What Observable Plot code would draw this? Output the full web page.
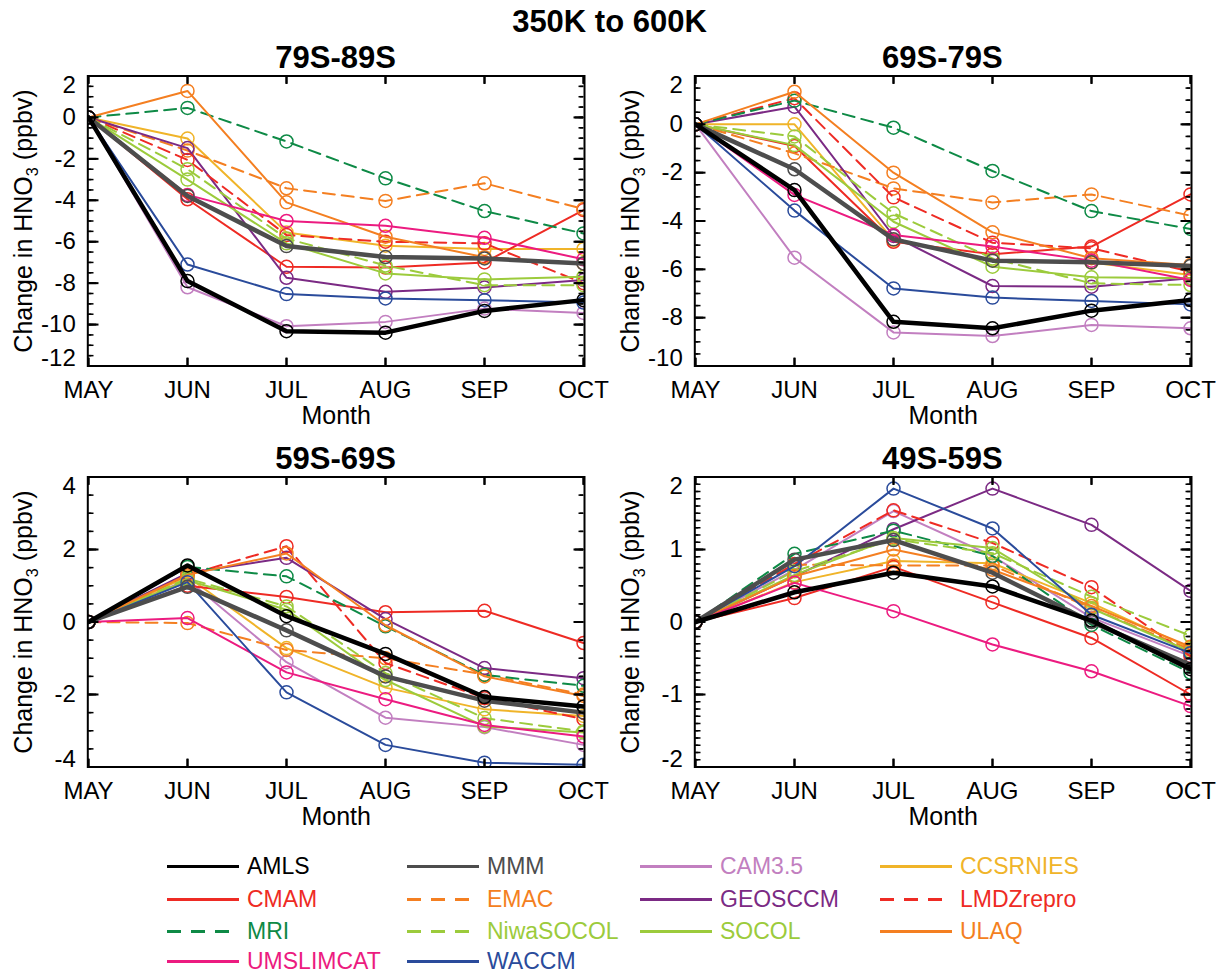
<!DOCTYPE html>
<html><head><meta charset="utf-8">
<script src="https://cdn.jsdelivr.net/npm/d3@7"></script>
<script src="https://cdn.jsdelivr.net/npm/@observablehq/plot@0.6"></script>
<style>
body{margin:0;background:#fff;font-family:"Liberation Sans",Arial,Helvetica,sans-serif;}
#wrap{position:relative;width:1219px;height:974px;overflow:hidden;background:#fff;}
.abs{position:absolute;white-space:nowrap;}
.ttl{font-weight:bold;transform:translate(-50%,-50%);}
.ylab{font-size:25px;transform:translate(-50%,-50%) rotate(-90deg);}
.leg{position:absolute;display:flex;align-items:center;font-size:23px;white-space:nowrap;transform:translateY(-50%);line-height:1;}
.leg svg{margin-right:8px;}
.plotbox{position:absolute;}
</style></head><body><div id="wrap"></div>
<script>
const months = ["MAY","JUN","JUL","AUG","SEP","OCT"];
const seriesNames = ["AMLS","MMM","CAM3.5","CCSRNIES","CMAM","EMAC","GEOSCCM","LMDZrepro","MRI","NiwaSOCOL","SOCOL","ULAQ","UMSLIMCAT","WACCM"];
const seriesColors = ["#000000","#4d4d4d","#c27fc0","#f0b429","#ee2b24","#f47f21","#7b2a84","#ee2b24","#0e8a46","#9ccb3c","#9ccb3c","#f47f21","#ec1b80","#2a4b9b"];
const seriesDashed = [false,false,false,false,false,true,false,true,true,true,false,false,false,false];
const seriesThick = [true,true,false,false,false,false,false,false,false,false,false,false,false,false];
const panelTitles = ["79S-89S","69S-79S","59S-69S","49S-59S"];
const legendOrder = ["AMLS","MMM","CAM3.5","CCSRNIES","CMAM","EMAC","GEOSCCM","LMDZrepro","MRI","NiwaSOCOL","SOCOL","ULAQ","UMSLIMCAT","WACCM"];

// values: rows in seriesNames order, columns in months order
const p79S89S = [
  [0,-7.9,-10.32,-10.39,-9.34,-8.82],
  [0,-3.79,-6.21,-6.74,-6.81,-7.05],
  [0,-8.2,-10.08,-9.87,-9.23,-9.44],
  [0,-1.02,-5.55,-6.19,-6.35,-6.35],
  [0,-3.95,-7.21,-7.25,-7.0,-4.47],
  [0,-1.6,-3.42,-4.03,-3.18,-4.42],
  [0,-1.48,-7.74,-8.42,-8.21,-7.85],
  [0,-2.05,-5.68,-6.0,-6.08,-8.0],
  [0,0.46,-1.16,-2.94,-4.52,-5.6],
  [0,-2.5,-5.85,-7.15,-8.1,-8.1],
  [0,-3.0,-6.08,-7.53,-7.82,-7.69],
  [0,1.28,-4.1,-5.76,-6.75,-7.05],
  [0,-3.74,-5.0,-5.23,-5.81,-6.85],
  [0,-7.1,-8.53,-8.74,-8.82,-8.94]
];
const p69S79S = [
  [0,-2.72,-8.17,-8.44,-7.71,-7.27],
  [0,-1.86,-4.76,-5.64,-5.71,-5.86],
  [0,-5.52,-8.61,-8.76,-8.3,-8.44],
  [0,0,-4.79,-5.61,-5.72,-6.23],
  [0,-0.9,-4.86,-5.38,-5.06,-2.9],
  [0,-1.2,-2.65,-3.23,-2.9,-3.78],
  [0,0.73,-4.62,-6.69,-6.72,-6.37],
  [0,1.08,-3.02,-4.9,-5.13,-6.1],
  [0,0.98,-0.14,-1.93,-3.59,-4.33],
  [0,-0.5,-3.68,-5.55,-6.58,-6.65],
  [0,-0.86,-4.03,-5.89,-6.33,-6.37],
  [0,1.35,-2.0,-4.47,-5.54,-5.82],
  [0,-2.92,-4.58,-5.06,-5.64,-6.44],
  [0,-3.57,-6.79,-7.17,-7.31,-7.45]
];
const p59S69S = [
  [0,1.56,0.16,-0.88,-2.07,-2.33],
  [0,0.97,-0.23,-1.5,-2.17,-2.5],
  [0,1.17,-1.11,-2.64,-2.9,-3.39],
  [0,1.25,-0.72,-1.81,-2.41,-2.59],
  [0,1.0,0.69,0.27,0.31,-0.58],
  [0,-0.03,-0.77,-1.0,-1.45,-2.0],
  [0,1.35,1.77,0.08,-1.27,-1.55],
  [0,1.3,2.09,-1.13,-2.1,-2.68],
  [0,1.52,1.26,-0.12,-1.46,-1.76],
  [0,1.2,0.43,-1.41,-2.65,-3.02],
  [0,1.15,0.34,-1.6,-2.88,-3.05],
  [0,1.3,1.89,-0.09,-1.5,-2.04],
  [0,0.11,-1.39,-2.13,-2.84,-3.16],
  [0,1.1,-1.94,-3.39,-3.88,-3.94]
];
const p49S59S = [
  [0,0.41,0.68,0.49,0.02,-0.65],
  [0,0.86,1.13,0.68,0.0,-0.59],
  [0,0.72,1.53,0.91,0.06,-0.47],
  [0,0.55,0.84,0.81,0.26,-0.36],
  [0,0.33,0.76,0.27,-0.22,-1.0],
  [0,0.79,0.78,0.78,0.19,-0.38],
  [0,0.63,1.28,1.84,1.34,0.43],
  [0,0.8,1.54,1.09,0.48,-0.47],
  [0,0.94,1.26,0.91,-0.04,-0.7],
  [0,0.7,1.14,0.95,0.35,-0.19],
  [0,0.65,1.16,1.02,0.19,-0.41],
  [0,0.63,1.0,0.72,0.22,-0.34],
  [0,0.54,0.15,-0.31,-0.68,-1.16],
  [0,0.77,1.84,1.29,0.1,-0.43]
];
const yDomains = [[-12,2],[-10,2],[-4,4],[-2,2]];
const yMajor = [[-12,-10,-8,-6,-4,-2,0,2],[-10,-8,-6,-4,-2,0,2],[-4,-2,0,2,4],[-2,-1,0,1,2]];
const yMinorStep = [0.5,0.5,0.5,0.1];

const FONT = '"Liberation Sans", Arial, Helvetica, sans-serif';
const wrap = document.getElementById("wrap");

function addDiv(cls, html, left, top, extra) {
  const d = document.createElement("div");
  d.className = "abs " + cls;
  d.innerHTML = html;
  d.style.left = left + "px";
  d.style.top = top + "px";
  if (extra) Object.assign(d.style, extra);
  wrap.appendChild(d);
  return d;
}

addDiv("ttl", "350K to 600K", 609.5, 22, {fontSize: "31px"});

const panelVals = [p79S89S, p69S79S, p59S69S, p49S59S];
const W = 609, H = 430, ML = 87.3, MR = 25, MT = 75.5, MB = 64.5;
const FW = W - ML - MR, FH = H - MT - MB;
const offsets = [[0,0],[606.7,0],[0,401.2],[606.7,401.2]];
const TICK = "#000";
const firstMonth = () => months[0];
const lastMonth = () => months[months.length - 1];
// tick-shaped symbols (short strokes pointing into the frame)
const tickSym = (dx, dy) => ({draw(ctx) { ctx.moveTo(0, 0); ctx.lineTo(dx, dy); }});

panelVals.forEach((vals, pi) => {
  const [dlo, dhi] = yDomains[pi];
  const step = yMinorStep[pi];
  const nMinor = Math.round((dhi - dlo) / step);
  const minor = d3.range(nMinor + 1).map(i => +(dlo + i * step).toFixed(3));
  const major = yMajor[pi];
  const inner = major.filter(v => v !== dlo && v !== dhi);
  const fmt = d => String(d);
  const marks = [];
  // series: others first, then MMM, then AMLS on top
  const order = d3.range(2, seriesNames.length).concat([1, 0]);
  for (const si of order) {
    const rows = months.map((m, k) => ({month: m, value: vals[si][k], series: seriesNames[si]}));
    marks.push(Plot.line(rows, {
      x: "month", y: "value", stroke: seriesColors[si],
      strokeWidth: seriesThick[si] ? 4.5 : 2,
      strokeDasharray: seriesDashed[si] ? "12,7" : null,
      clip: true
    }));
    marks.push(Plot.dot(rows, {
      x: "month", y: "value", r: 6.5, stroke: seriesColors[si], fill: "none",
      strokeWidth: 1.5, clip: true
    }));
  }
  const ruleTicks = [
    Plot.ruleX(months, {x: d => d, y1: () => dhi, y2: () => dlo, insetTop: FH - 8, stroke: TICK, strokeWidth: 2}),
    Plot.ruleX(months, {x: d => d, y1: () => dhi, y2: () => dlo, insetBottom: FH - 8, stroke: TICK, strokeWidth: 2}),
    Plot.ruleY(major, {y: d => d, x1: firstMonth, x2: lastMonth, insetRight: FW - 10, stroke: TICK, strokeWidth: 2}),
    Plot.ruleY(minor, {y: d => d, x1: firstMonth, x2: lastMonth, insetRight: FW - 5, stroke: TICK, strokeWidth: 1.5}),
    Plot.ruleY(major, {y: d => d, x1: firstMonth, x2: lastMonth, insetLeft: FW - 10, stroke: TICK, strokeWidth: 2}),
    Plot.ruleY(minor, {y: d => d, x1: firstMonth, x2: lastMonth, insetLeft: FW - 5, stroke: TICK, strokeWidth: 1.5})
  ];
  const symTicks = [
    Plot.dot(months, {x: d => d, y: () => dlo, r: 3, symbol: tickSym(0, -8), fill: "none", stroke: TICK, strokeWidth: 2}),
    Plot.dot(months, {x: d => d, y: () => dhi, r: 3, symbol: tickSym(0, 8), fill: "none", stroke: TICK, strokeWidth: 2}),
    Plot.dot(major, {x: firstMonth, y: d => d, r: 3, symbol: tickSym(10, 0), fill: "none", stroke: TICK, strokeWidth: 2}),
    Plot.dot(minor, {x: firstMonth, y: d => d, r: 3, symbol: tickSym(5, 0), fill: "none", stroke: TICK, strokeWidth: 1.5}),
    Plot.dot(major, {x: lastMonth, y: d => d, r: 3, symbol: tickSym(-10, 0), fill: "none", stroke: TICK, strokeWidth: 2}),
    Plot.dot(minor, {x: lastMonth, y: d => d, r: 3, symbol: tickSym(-5, 0), fill: "none", stroke: TICK, strokeWidth: 1.5})
  ];
  const rest = [
    Plot.axisX({anchor: "bottom", tickSize: 0, tickPadding: 15, label: null, fontSize: 24}),
    Plot.axisY(inner, {anchor: "left", tickSize: 0, tickPadding: 12, tickFormat: fmt, label: null, fontSize: 24}),
    Plot.axisY([dhi], {anchor: "left", tickSize: 0, tickPadding: 12, tickFormat: fmt, label: null, fontSize: 24, dy: 9}),
    Plot.axisY([dlo], {anchor: "left", tickSize: 0, tickPadding: 12, tickFormat: fmt, label: null, fontSize: 24, dy: -8}),
    Plot.frame({stroke: "black", strokeWidth: 2}),
    Plot.text(["Month"], {frameAnchor: "bottom", lineAnchor: "middle", dy: 50, fontSize: 25, fill: "black"})
  ];
  const opts = (extra) => ({
    width: W, height: H,
    marginLeft: ML, marginRight: MR, marginTop: MT, marginBottom: MB,
    style: {fontFamily: FONT, fontSize: "24px", color: "black", background: "transparent", overflow: "visible"},
    x: {type: "point", domain: months, padding: 0},
    y: {domain: [dlo, dhi]},
    marks: marks.concat(ruleTicks, extra, rest)
  });
  let svg;
  try { svg = Plot.plot(opts(symTicks)); } catch (e) { svg = Plot.plot(opts([])); }
  const box = document.createElement("div");
  box.className = "plotbox";
  box.style.left = offsets[pi][0] + "px";
  box.style.top = offsets[pi][1] + "px";
  box.appendChild(svg);
  wrap.appendChild(box);
  const cx = offsets[pi][0] + ML + FW / 2;
  addDiv("ttl", panelTitles[pi], cx, offsets[pi][1] + 57.5, {fontSize: "31px"});
  addDiv("ylab", "Change in HNO<sub style='font-size:65%'>3</sub> (ppbv)", offsets[pi][0] + 25, offsets[pi][1] + MT + FH / 2);
});

// legend
const colX = [167, 407, 640, 880];
const rowY = [866, 899, 931, 961];
legendOrder.forEach((name, i) => {
  const si = seriesNames.indexOf(name);
  const c = i % 4, r = Math.floor(i / 4);
  const d = document.createElement("div");
  d.className = "leg";
  d.style.left = colX[c] + "px";
  d.style.top = rowY[r] + "px";
  d.style.color = seriesColors[si];
  const dash = seriesDashed[si] ? "stroke-dasharray='14,10'" : "";
  d.innerHTML = `<svg width="72" height="12"><line x1="0" y1="6" x2="72" y2="6" stroke="${seriesColors[si]}" stroke-width="3" ${dash}/></svg><span>${name}</span>`;
  wrap.appendChild(d);
});
</script></body></html>
